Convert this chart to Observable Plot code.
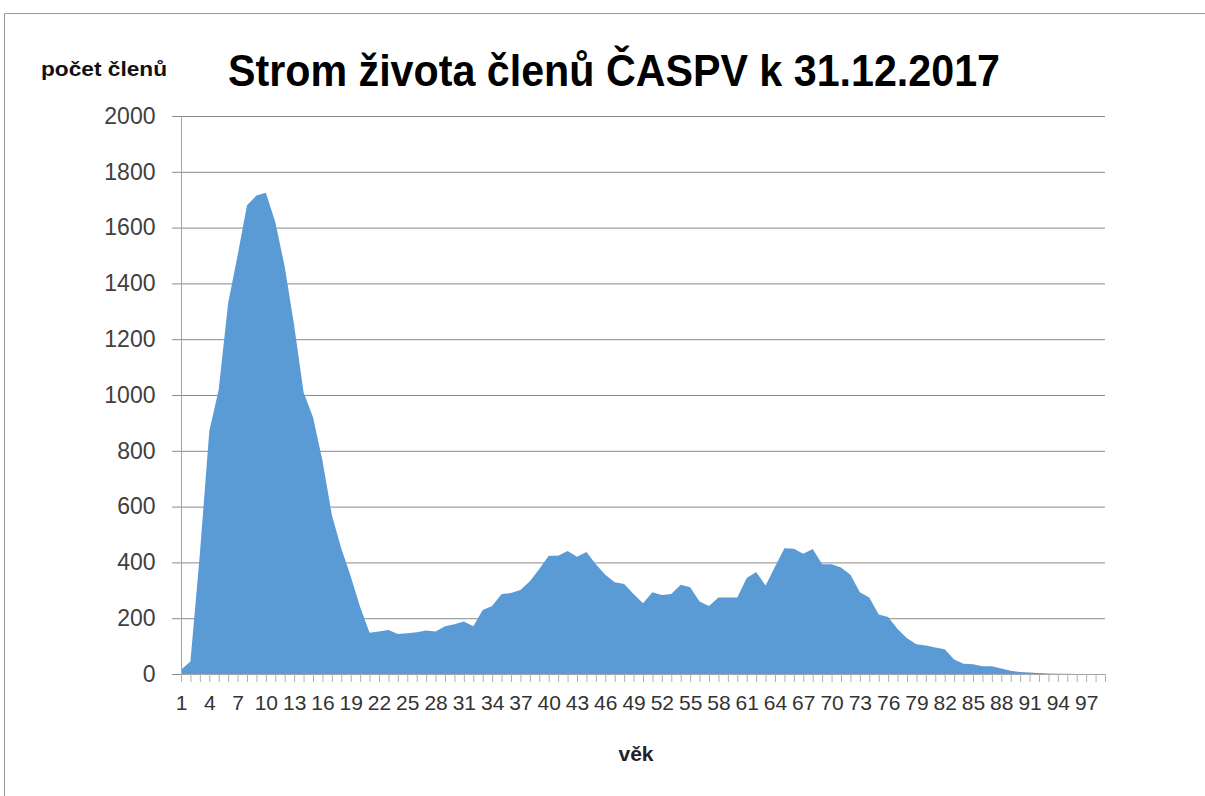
<!DOCTYPE html>
<html>
<head>
<meta charset="utf-8">
<script src="https://cdn.jsdelivr.net/npm/d3@7"></script>
<script src="https://cdn.jsdelivr.net/npm/@observablehq/plot@0.6"></script>
<style>
  html, body { margin: 0; padding: 0; background: #fff; }
  #chart { width: 1205px; height: 796px; }
</style>
</head>
<body>
<div id="chart"></div>
<script>
const ages = [1,2,3,4,5,6,7,8,9,10,11,12,13,14,15,16,17,18,19,20,21,22,23,24,25,26,27,28,29,30,31,32,33,34,35,36,37,38,39,40,41,42,43,44,45,46,47,48,49,50,51,52,53,54,55,56,57,58,59,60,61,62,63,64,65,66,67,68,69,70,71,72,73,74,75,76,77,78,79,80,81,82,83,84,85,86,87,88,89,90,91,92,93,94,95,96,97,98,99];
const counts = [15,45,430,870,1020,1330,1500,1680,1715,1725,1620,1460,1250,1010,920,765,570,450,350,240,148,152,158,143,146,150,156,152,171,178,188,171,229,244,287,290,301,332,376,424,424,441,420,437,393,356,329,323,287,254,293,283,287,320,311,260,244,274,274,274,344,366,317,384,451,449,431,448,393,393,382,356,293,274,213,204,161,128,107,102,95,89,52,37,35,28,28,20,12,7,5,4,2,1,1,0,0,0,0];
const xTickLabels = [1,4,7,10,13,16,19,22,25,28,31,34,37,40,43,46,49,52,55,58,61,64,67,70,73,76,79,82,85,88,91,94,97];
const yTicks = [0,200,400,600,800,1000,1200,1400,1600,1800,2000];
const titleText = "Strom života členů ČASPV k 31.12.2017";
const yTitle = "počet členů";
const xTitle = "věk";

const data = ages.map((a, i) => ({age: a, count: counts[i]}));

const svg = Plot.plot({
  width: 1205,
  height: 796,
  marginLeft: 181,
  marginRight: 100,
  marginTop: 116,
  marginBottom: 122,
  style: {fontFamily: "Liberation Sans, Arial, sans-serif", background: "white", overflow: "visible"},
  x: {domain: [1, 99]},
  y: {domain: [0, 2000]},
  marks: [
    Plot.gridY(yTicks, {stroke: "#8a8a8a", strokeOpacity: 1}),
    Plot.areaY(data, {x: "age", y: "count", fill: "#5b9bd5"}),
    Plot.ruleX([1], {stroke: "#a6a6a6"}),
    Plot.ruleY([0], {stroke: "#a6a6a6"}),
    Plot.axisY(yTicks, {tickSize: 9, tickPadding: 17, fontSize: 23, fill: "#404040", stroke: "#8a8a8a", label: null, tickFormat: d => String(d)}),
    Plot.axisX(ages, {tickSize: 8, tickFormat: () => "", stroke: "#b0b0b0", label: null}),
    Plot.axisX(xTickLabels, {tickSize: 0, tickPadding: 21, fontSize: 21, fill: "#333333", label: null, tickFormat: d => String(d)})
  ]
});

document.getElementById("chart").appendChild(svg);

const s = d3.select(svg);
// chart border (top and left edges visible)
s.append("line").attr("x1", 4.5).attr("y1", 13.5).attr("x2", 1205).attr("y2", 13.5).attr("stroke", "#9a9a9a");
s.append("line").attr("x1", 4.5).attr("y1", 13.5).attr("x2", 4.5).attr("y2", 796).attr("stroke", "#9a9a9a");

s.append("text")
  .attr("x", 228).attr("y", 86)
  .attr("text-anchor", "start")
  .attr("font-family", "Liberation Sans, Arial, sans-serif")
  .attr("font-weight", "bold").attr("font-size", 45)
  .attr("textLength", 772).attr("lengthAdjust", "spacingAndGlyphs")
  .attr("fill", "#000")
  .text(titleText);

s.append("text")
  .attr("x", 41).attr("y", 76)
  .attr("text-anchor", "start")
  .attr("font-family", "Liberation Sans, Arial, sans-serif")
  .attr("font-weight", "bold").attr("font-size", 20)
  .attr("textLength", 126).attr("lengthAdjust", "spacingAndGlyphs")
  .attr("fill", "#111")
  .text(yTitle);

s.append("text")
  .attr("x", 636).attr("y", 761)
  .attr("text-anchor", "middle")
  .attr("font-family", "Liberation Sans, Arial, sans-serif")
  .attr("font-weight", "bold").attr("font-size", 21)
  .attr("fill", "#222")
  .text(xTitle);
</script>
</body>
</html>
